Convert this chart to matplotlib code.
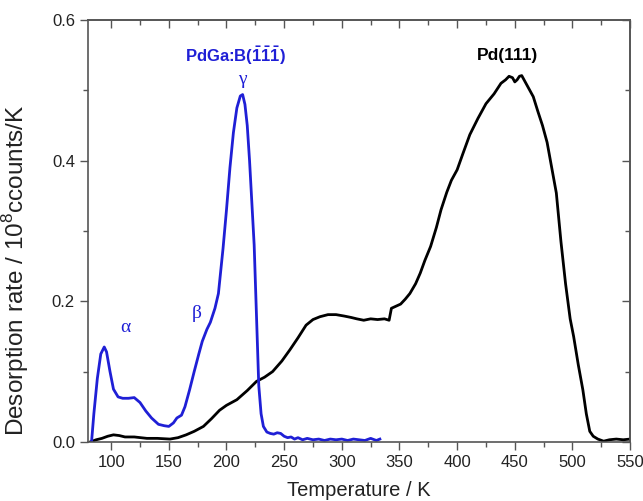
import numpy as np
import matplotlib
matplotlib.use("Agg")
import matplotlib.pyplot as plt
from matplotlib.ticker import MultipleLocator

plt.rcParams["font.family"] = ["Liberation Sans", "DejaVu Sans"]
plt.rcParams["mathtext.fontset"] = "custom"
plt.rcParams["mathtext.rm"] = "Liberation Sans"
plt.rcParams["mathtext.bf"] = "Liberation Sans:bold"

# PdGa:B(-1-1-1) trace
pdga_T = [83, 85, 88, 91, 94, 96, 99, 102, 106, 110, 115, 120, 125, 130, 135,
          141, 146, 150, 154, 157, 161, 164, 168, 172, 176, 179, 183, 186, 190,
          193, 197, 200, 203, 206, 209, 212, 214, 216, 218, 220, 222, 224, 226,
          228, 230, 232, 235, 238, 241, 244, 247, 250, 253, 256, 259, 262, 266,
          270, 275, 280, 285, 290, 295, 300, 305, 310, 315, 320, 325, 330, 333]
pdga_rate = [0.0, 0.04, 0.09, 0.125, 0.135, 0.128, 0.1, 0.075, 0.064, 0.062,
             0.062, 0.063, 0.056, 0.044, 0.034, 0.025, 0.023, 0.022, 0.027,
             0.034, 0.038, 0.05, 0.074, 0.1, 0.125, 0.143, 0.16, 0.17, 0.19,
             0.211, 0.275, 0.33, 0.39, 0.44, 0.475, 0.492, 0.494, 0.48, 0.45,
             0.40, 0.34, 0.28, 0.18, 0.08, 0.04, 0.022, 0.014, 0.012, 0.011,
             0.013, 0.012, 0.008, 0.006, 0.007, 0.004, 0.006, 0.003, 0.005,
             0.003, 0.004, 0.002, 0.004, 0.003, 0.004, 0.002, 0.004, 0.003,
             0.002, 0.005, 0.002, 0.004]

# Pd(111) trace
pd_T = [82, 87, 92, 97, 102, 107, 112, 120, 131, 140, 151, 158, 165, 172, 180,
        187, 194, 200, 209, 218, 226, 233, 240, 248, 255, 262, 269, 275, 281,
        288, 295, 302, 308, 313, 319, 325, 331, 337, 341, 343, 347, 351, 355,
        359, 364, 368, 372, 377, 382, 386, 391, 395, 400, 405, 411, 418, 425,
        432, 438, 442, 445, 448, 450, 452, 454, 456, 459, 463, 466, 470, 474,
        478, 482, 486, 490, 494, 498, 501, 505, 509, 512, 515, 518, 522, 527,
        532, 538, 544, 550]
pd_rate = [0.0, 0.003, 0.005, 0.008, 0.01, 0.009, 0.007, 0.007, 0.005, 0.005,
           0.004, 0.006, 0.01, 0.015, 0.022, 0.033, 0.045, 0.052, 0.06, 0.073,
           0.086, 0.092, 0.1, 0.115, 0.131, 0.148, 0.166, 0.174, 0.178, 0.181,
           0.181, 0.179, 0.177, 0.175, 0.173, 0.175, 0.174, 0.175, 0.173, 0.19,
           0.193, 0.196, 0.203, 0.211, 0.225, 0.24, 0.258, 0.278, 0.305, 0.33,
           0.355, 0.372, 0.387, 0.41, 0.437, 0.46, 0.481, 0.495, 0.51, 0.515,
           0.52, 0.518, 0.512, 0.515, 0.52, 0.521, 0.512, 0.5, 0.491, 0.47,
           0.45, 0.426, 0.39, 0.354, 0.285, 0.225, 0.175, 0.15, 0.11, 0.074,
           0.04, 0.015, 0.008, 0.004, 0.001, 0.003, 0.004, 0.003, 0.004]

blue = "#1f1fd6"
grey = "#555555"

fig = plt.figure(figsize=(6.43, 5.01), dpi=100)
ax = fig.add_axes([0.137, 0.118, 0.843, 0.842])

ax.plot(pd_T, pd_rate, color="black", lw=2.0)
ax.plot(pdga_T, pdga_rate, color=blue, lw=2.0)

ax.set_xlim(80, 550)
ax.set_ylim(0, 0.6)
ax.xaxis.set_major_locator(MultipleLocator(50))
ax.xaxis.set_minor_locator(MultipleLocator(25))
ax.yaxis.set_major_locator(MultipleLocator(0.2))
ax.yaxis.set_minor_locator(MultipleLocator(0.1))
ax.yaxis.set_major_formatter(plt.FuncFormatter(lambda v, p: f"{v:.1f}"))

ax.tick_params(which="both", direction="out", colors=grey,
               labelcolor="#222222", labelsize=12, width=1.0)
ax.tick_params(which="major", length=6)
ax.tick_params(which="minor", length=3.5)

# inward ticks on top and right, no labels
top = ax.secondary_xaxis("top")
top.xaxis.set_major_locator(MultipleLocator(50))
top.xaxis.set_minor_locator(MultipleLocator(25))
top.tick_params(which="both", direction="in", colors=grey, labeltop=False, width=1.0)
top.tick_params(which="major", length=6)
top.tick_params(which="minor", length=3.5)
right = ax.secondary_yaxis("right")
right.yaxis.set_major_locator(MultipleLocator(0.2))
right.yaxis.set_minor_locator(MultipleLocator(0.1))
right.tick_params(which="both", direction="in", colors=grey, labelright=False, width=1.0)
right.tick_params(which="major", length=6)
right.tick_params(which="minor", length=3.5)

for a in (ax, top, right):
    for s in a.spines.values():
        s.set_color(grey)
        s.set_linewidth(1.2)

ax.set_xlabel("Temperature / K", fontsize=14.5, color="#222222", labelpad=8)
ax.set_ylabel("Desorption rate / 10$^8$ccounts/K", fontsize=17.5,
              color="#222222")
ax.yaxis.set_label_coords(-0.105, 0.408)

ax.text(208, 0.55, r"PdGa:B($\mathbf{\bar{1}\bar{1}\bar{1}}$)", color=blue,
        fontsize=12, fontweight="bold", ha="center", va="center")
ax.text(444, 0.55, "Pd(111)", color="black", fontsize=12.5, fontweight="bold",
        ha="center", va="center")
greek = dict(color=blue, fontsize=14, ha="center", va="center",
             family=["Liberation Serif", "DejaVu Serif"])
ax.text(213.5, 0.515, "γ", **greek)
ax.text(112, 0.162, "α", **greek)
ax.text(174.5, 0.183, "β", **greek)

fig.savefig("out.png", dpi=100)
